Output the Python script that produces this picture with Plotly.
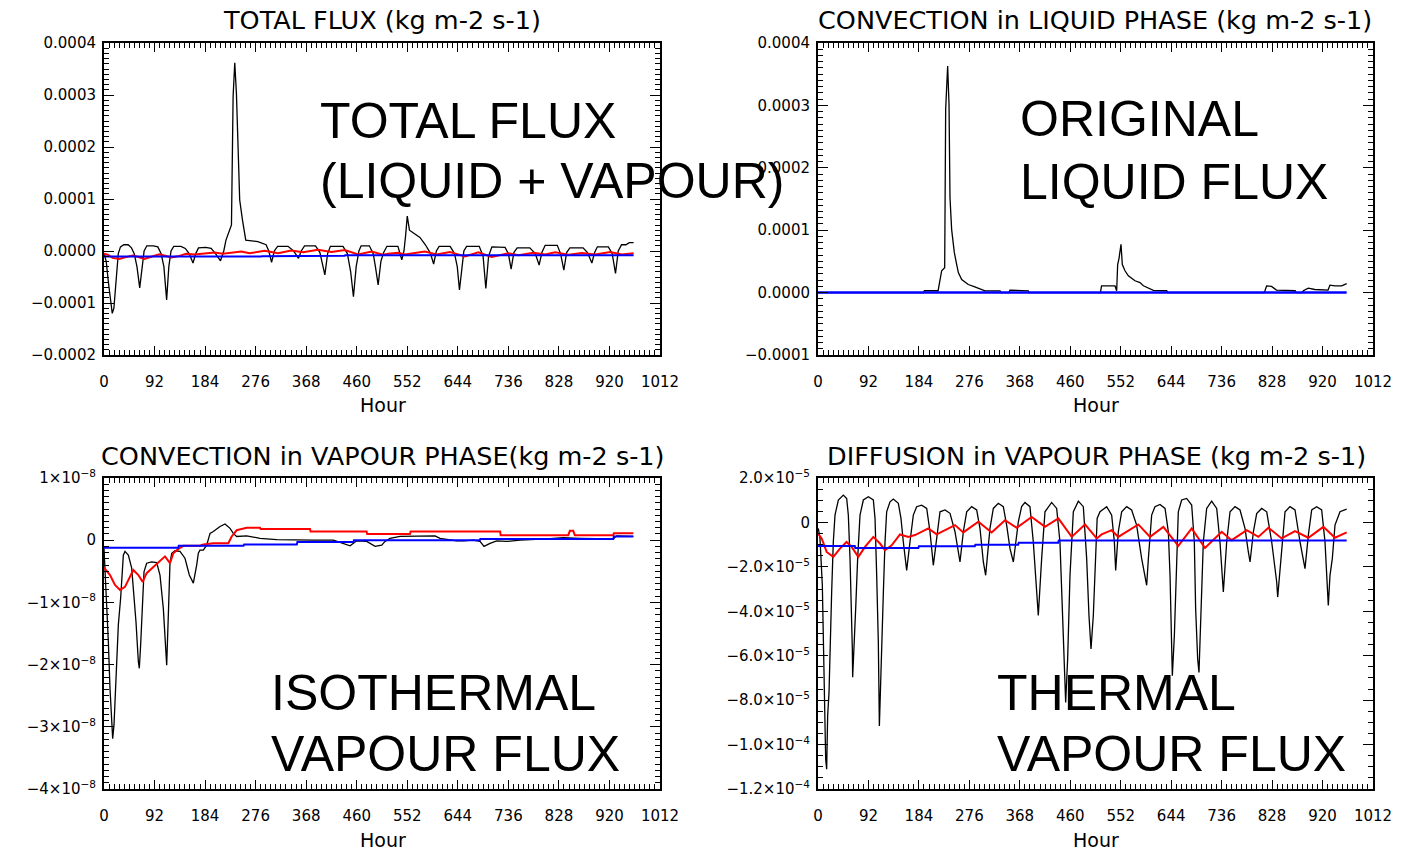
import numpy as np
import plotly.graph_objects as go

# ---------------- data (hours, values) ----------------
# Panel 1: total flux, black series (units 1e-5 kg m-2 s-1)
TOTAL_H = [0, 4, 8, 12, 15, 18, 22, 26, 30, 36, 44, 50, 55, 60, 65, 69, 73, 78, 90, 98, 104, 109, 114, 118,
           122, 127, 140, 148, 155, 162, 167, 172, 185, 195, 203, 212, 218, 222, 228, 232, 235, 238, 241,
           244, 247, 252, 258, 265, 280, 295, 300, 305, 310, 316, 335, 345, 354, 359, 365, 385, 393, 402,
           407, 412, 435, 443, 449, 454, 459, 464, 468, 483, 490, 494, 499, 504, 509, 515, 535, 542, 546,
           549, 552, 556, 565, 575, 585, 594, 600, 605, 610, 630, 638, 643, 647, 651, 655, 660, 683, 690,
           695, 700, 706, 730, 736, 741, 746, 752, 775, 785, 792, 797, 803, 825, 831, 837, 842, 848, 872,
           880, 888, 893, 898, 918, 925, 931, 936, 942, 950, 956, 964]
TOTAL_V = [-0.4, -2, -6, -10, -12, -11, -6, -0.5, 0.8, 1.2, 1.2, 0.6, -0.5, -3, -7.1, -3, 0, 1, 1, 0.8, -0.5,
           -3, -9.4, -3, 0, 0.9, 0.9, 0.5, -0.5, -2.3, -0.5, 0.6, 0.7, 0.5, -0.5, -1.9, 0, 2.1, 3.7, 5,
           29.7, 36.2, 30.4, 19.4, 9.8, 6, 2.1, 2, 1.8, 1.2, 0, -2.2, 0, 0.9, 0.9, 0, -1.4, 0, 1, 1, -0.3,
           -4.6, -0.5, 0.9, 0.9, -0.5, -4, -8.8, -3, 0, 1, 1, -0.5, -3, -6.5, -2, -0.3, 0.9, 0.9, -1.7, 0,
           3, 6.7, 4, 3.3, 2.6, 1.2, -0.4, -2.5, 0, 0.9, 0.9, -0.5, -3, -7.5, -3, 0, 0.9, 0.9, -1, -7.2,
           -1, 0.8, 0.7, -0.5, -3.5, -0.3, 0.6, 0.6, -0.5, -2.7, -0.3, 1.1, 1.1, -0.5, -3.7, -0.3, 0.6,
           0.6, -0.3, -2.3, -0.3, 0.8, 0.8, -0.5, -4.3, 0, 1.2, 1.2, 1.6, 1.6]

# Panel 2: liquid flux, black series (units 1e-5)
LIQ_H = [0, 192, 194, 219, 225.5, 231, 232.8, 236.4, 238.9, 240.7, 243.7, 248.6, 252.9, 255.9, 262, 274,
         286, 298, 304.5, 332, 334, 348, 350, 383.5, 385, 515, 517, 541.6, 544.6, 546.4, 548.9, 552.5,
         554.9, 559.8, 565.9, 578, 587.2, 593.3, 602.4, 611.5, 635.8, 638, 813, 815, 818, 827, 836, 870,
         872, 883, 885, 894, 906, 930, 933.6, 942.7, 955, 964]
LIQ_V = [0, 0, 0.3, 0.3, 3.5, 4.0, 29.4, 36.3, 30.2, 15.2, 10.1, 6.4, 4.5, 3.2, 2.1, 1.3, 0.9, 0.5, 0.27,
         0.27, 0, 0, 0.4, 0.27, 0, 0, 1.07, 1.07, 0.3, 4.5, 5.5, 7.75, 4.5, 3.5, 2.7, 1.9, 1.6, 1.1, 0.7,
         0.37, 0.3, 0, 0, 0.3, 1.07, 1.0, 0.4, 0.3, 0, 0, 0.3, 0.7, 0.5, 0.4, 1.2, 1.07, 1.07, 1.44]
LIQ_BLUE_H = [0, 964]
LIQ_BLUE_V = [0, 0]

# Panel 3: isothermal vapour flux (units 1e-8)
ISO_H = [0, 1.8, 4.9, 7.9, 10.9, 13.9, 15.8, 18.2, 21.8, 26.1, 30.3, 35.2, 38.2, 44.3, 50.4, 53.4, 58.2,
         62.5, 64.3, 66.7, 70.4, 72.8, 77.6, 86.8, 95.9, 101.9, 108, 112.9, 114.1, 117.1, 120.1, 123.2,
         129.2, 138.3, 147.4, 155.3, 162.6, 168.7, 171.7, 174.7, 180.8, 186.9, 193, 199, 211.2, 220.3,
         229.4, 235.4, 241.5, 259.7, 271.9, 284, 314.4, 350.8, 381.1, 417.5, 447.9, 460, 478.2, 493.4,
         505.5, 511.5, 520.6, 538.8, 587.3, 602.5, 611.6, 641.9, 654, 672.2, 684.4, 691.7, 702.6, 714.8,
         733, 757.2, 805.8, 836.1, 866.4, 890.7, 927.1, 933.2, 963.5]
ISO_V = [-0.13, -0.45, -1.04, -1.63, -2.38, -3.02, -3.19, -2.97, -2.17, -1.36, -0.93, -0.24, -0.18, -0.24,
         -0.45, -0.77, -1.31, -1.95, -2.06, -1.68, -1.10, -0.51, -0.37, -0.35, -0.36, -0.56, -1.10, -1.95,
         -2.01, -1.2, -0.37, -0.21, -0.17, -0.18, -0.29, -0.56, -0.69, -0.40, -0.21, -0.16, -0.16, -0.08,
         0.11, 0.14, 0.22, 0.26, 0.19, 0.11, 0.06, 0.07, 0.05, 0.03, 0.01, 0, 0, 0, -0.09, -0.01, -0.02,
         -0.10, -0.08, -0.02, 0.03, 0.06, 0.06, 0.07, 0.03, -0.01, -0.01, 0, -0.02, -0.10, -0.05, -0.01,
         -0.02, 0, 0.02, 0.04, 0.03, 0.03, 0.02, 0.07, 0.06]
ISO_RED_H = [0, 10.9, 20, 29.1, 38.2, 47.3, 53.4, 62.5, 70.4, 77.6, 89.8, 101.9, 111, 120.1, 126.2, 135.3,
             144.4, 174.7, 180.8, 199, 226.3, 232.4, 241.5, 259.7, 284, 285, 375, 376, 478, 479, 557, 558,
             721, 722, 845, 848, 854, 857, 927, 928, 963.5]
ISO_RED_V = [-0.44, -0.56, -0.72, -0.80, -0.75, -0.59, -0.48, -0.56, -0.67, -0.53, -0.43, -0.32, -0.26,
             -0.37, -0.21, -0.14, -0.09, -0.09, -0.07, -0.05, -0.05, 0.06, 0.16, 0.20, 0.20, 0.18, 0.18,
             0.14, 0.14, 0.10, 0.10, 0.14, 0.14, 0.08, 0.08, 0.15, 0.15, 0.08, 0.08, 0.11, 0.11]
ISO_BLUE_H = [0, 135, 136, 254, 255, 351, 352, 454, 455, 684, 685, 927, 928, 963.5]
ISO_BLUE_V = [-0.12, -0.12, -0.09, -0.09, -0.07, -0.07, -0.03, -0.03, 0.0, 0.0, 0.02, 0.02, 0.06, 0.06]

# Panel 4: thermal vapour flux (units 1e-5)
TH_H = [0.6, 3.6, 7.9, 11.6, 14, 15.8, 17.6, 20.1, 21.9, 24.9, 27.9, 31, 37.1, 46.2, 52.3, 55.3, 58.4,
        61.4, 62.6, 63.2, 66.3, 68.7, 72.3, 76.6, 82.7, 91.8, 100.9, 104, 107, 110, 111.9, 114.9, 119.2,
        122.2, 125.2, 131.3, 137.4, 146.5, 151.3, 155.6, 161.7, 167.7, 173.8, 179.9, 189, 198.2, 204.2,
        210.3, 216.4, 222.5, 231.6, 240.7, 249.8, 258.9, 265, 271.1, 280.2, 289.3, 295.4, 301.5, 305.7,
        313.6, 319.7, 328.8, 337.9, 344, 350.1, 356.2, 365.3, 371.3, 377.4, 386.5, 392.6, 398.7, 401.7,
        407.8, 413.9, 426, 435.2, 441.2, 445.5, 449.1, 451.6, 455.2, 459.5, 465.6, 474.7, 483.8, 489.9,
        494.1, 497.8, 502, 505, 509, 514.2, 526.4, 535.5, 540.4, 542.8, 547.6, 553.7, 562.8, 571.9, 581,
        590.2, 596.3, 599.3, 602.4, 608.4, 614.5, 623.6, 632.8, 638.8, 641.9, 643.7, 646.1, 649.8, 654,
        657, 663.1, 672.2, 681.4, 686.2, 688.6, 692.3, 694.7, 698.4, 702.6, 708.7, 717.8, 727, 733, 739.1,
        745.2, 751.3, 760.4, 769.5, 778.6, 784.7, 787.8, 793.9, 799.9, 809, 818.2, 827.3, 836.4, 838.2,
        844.3, 851.6, 860.7, 869.8, 878.9, 885, 888, 894.1, 900.2, 909.3, 918.4, 924.5, 927.5, 930.5,
        933.6, 937.8, 942.7, 951.8, 964]
TH_V = [-0.27, -0.72, -2.83, -7.65, -10.66, -11.11, -8.7, -7.65, -5.39, -3.13, -0.88, 0.33, 1.01, 1.23,
        1.08, 0.33, -1.63, -3.89, -5.7, -6.97, -5.54, -3.89, -1.63, 0.33, 1.01, 1.16, 1.01, 0.18, -2.38,
        -5.39, -9.16, -6.15, -3.13, -0.88, 0.48, 0.93, 1.05, 0.86, 0.18, -0.88, -2.16, -0.88, 0.33, 0.71,
        0.78, 0.63, -0.42, -1.93, -0.57, 0.48, 0.56, 0.41, -0.42, -1.78, -0.42, 0.48, 0.71, 0.56, -0.27,
        -1.78, -2.38, -0.27, 0.63, 0.86, 0.71, -0.12, -1.18, -1.78, 0.03, 0.71, 0.90, 0.71, -0.88, -2.83,
        -4.19, -1.63, 0.48, 0.90, 0.63, -0.88, -3.89, -6.9, -8.1, -6.15, -2.38, 0.48, 0.96, 0.71, -1.63,
        -4.19, -5.7, -4.19, -2.5, 0.18, 0.48, 0.71, 0.33, -0.88, -2.16, -0.42, 0.48, 0.71, 0.56, -0.12,
        -1.63, -2.53, -2.83, -1.63, 0.33, 0.71, 0.81, 0.63, -0.42, -2.38, -4.64, -6.9, -5.09, -1.63, 0.48,
        1.01, 1.08, 0.78, -0.88, -3.89, -6.15, -6.75, -3.89, -0.88, 0.63, 0.96, 0.63, -0.88, -3.13, -0.88,
        0.48, 0.71, 0.56, -0.27, -1.33, -1.78, -0.42, 0.40, 0.63, 0.48, -0.88, -2.68, -3.36, -1.63, 0.48,
        0.71, 0.56, -0.88, -1.63, -2.08, -0.57, 0.56, 0.71, 0.56, -0.88, -2.68, -3.74, -2.38, -1.63, -0.12,
        0.48, 0.60]
TH_RED_H = [0, 6.7, 15.8, 27.9, 40, 52, 61.4, 73.5, 85.7, 100.9, 113, 122.2, 134.3, 149.5, 164.7, 176.9,
            201.2, 216.4, 249.8, 265, 292.4, 316.7, 341, 362.3, 389.6, 414, 438.3, 462.6, 486.9, 508.2,
            517.2, 535.5, 547.6, 584.1, 605.4, 629.7, 657, 681.4, 705.7, 736.1, 754.3, 781.7, 803, 821.2,
            845.5, 869.8, 894.1, 921.5, 942.7, 964]
TH_RED_V = [-0.50, -0.72, -1.33, -1.55, -1.18, -0.88, -1.10, -1.55, -1.10, -0.65, -0.95, -1.25, -1.03,
            -0.54, -0.65, -0.57, -0.27, -0.54, -0.12, -0.45, 0.03, -0.45, 0.10, -0.24, 0.25, -0.20, 0.18,
            -0.65, -0.09, -0.72, -0.54, -0.35, -0.65, -0.09, -0.65, -0.20, -1.06, -0.27, -1.15, -0.42,
            -0.80, -0.35, -0.65, -0.24, -0.72, -0.39, -0.69, -0.20, -0.69, -0.45]
TH_BLUE_H = [0, 67, 68, 183, 184, 286, 287, 365, 366, 438, 439, 964]
TH_BLUE_V = [-1.06, -1.06, -1.15, -1.15, -1.07, -1.07, -1.0, -1.0, -0.92, -0.92, -0.81, -0.81]

# ticks
X_TICKS = [0, 92, 184, 276, 368, 460, 552, 644, 736, 828, 920, 1012]
X_TICK_TEXT = [str(v) for v in X_TICKS]
Y1_TICKS = [-2e-4, -1e-4, 0, 1e-4, 2e-4, 3e-4, 4e-4]
Y1_TEXT = ["−0.0002", "−0.0001", "0.0000", "0.0001", "0.0002", "0.0003", "0.0004"]
Y2_TICKS = [-1e-4, 0, 1e-4, 2e-4, 3e-4, 4e-4]
Y2_TEXT = ["−0.0001", "0.0000", "0.0001", "0.0002", "0.0003", "0.0004"]
Y3_TICKS = [-4e-8, -3e-8, -2e-8, -1e-8, 0, 1e-8]
Y3_TEXT = ["−4×10<sup>−8</sup>", "−3×10<sup>−8</sup>", "−2×10<sup>−8</sup>", "−1×10<sup>−8</sup>", "0",
           "1×10<sup>−8</sup>"]
Y4_TICKS = [-1.2e-4, -1.0e-4, -8e-5, -6e-5, -4e-5, -2e-5, 0, 2e-5]
Y4_TEXT = ["−1.2×10<sup>−4</sup>", "−1.0×10<sup>−4</sup>", "−8.0×10<sup>−5</sup>", "−6.0×10<sup>−5</sup>",
           "−4.0×10<sup>−5</sup>", "−2.0×10<sup>−5</sup>", "0", "2.0×10<sup>−5</sup>"]

TITLES = ["TOTAL FLUX (kg m-2 s-1)", "CONVECTION in LIQUID PHASE (kg m-2 s-1)",
          "CONVECTION in VAPOUR PHASE(kg m-2 s-1)", "DIFFUSION in VAPOUR PHASE (kg m-2 s-1)"]
LABELS = [["TOTAL FLUX", "(LIQUID + VAPOUR)"], ["ORIGINAL", "LIQUID FLUX"],
          ["ISOTHERMAL", "VAPOUR FLUX"], ["THERMAL", "VAPOUR FLUX"]]

# ---------------- figure ----------------
W, H = 1405, 850
fig = go.Figure()

def a(lst, s):
    return np.array(lst, dtype=float) * s

def add(xs, ys, color, width, ax):
    fig.add_trace(go.Scatter(x=xs, y=ys, mode="lines", line=dict(color=color, width=width),
                             xaxis="x" + ax, yaxis="y" + ax, showlegend=False, hoverinfo="skip"))

# panel 1
add(TOTAL_H, a(TOTAL_V, 1e-5), "black", 1.3, "")
add(TH_RED_H, a(TH_RED_V, 1e-5), "#ff0000", 2, "")
add(TH_BLUE_H, a(TH_BLUE_V, 1e-5), "#0000ff", 2, "")
# panel 2
add(LIQ_H, a(LIQ_V, 1e-5), "black", 1.3, "2")
add(LIQ_BLUE_H, a(LIQ_BLUE_V, 1e-5), "#0000ff", 2.5, "2")
# panel 3
add(ISO_H, a(ISO_V, 1e-8), "black", 1.3, "3")
add(ISO_RED_H, a(ISO_RED_V, 1e-8), "#ff0000", 2, "3")
add(ISO_BLUE_H, a(ISO_BLUE_V, 1e-8), "#0000ff", 2, "3")
# panel 4
add(TH_H, a(TH_V, 1e-5), "black", 1.3, "4")
add(TH_RED_H, a(TH_RED_V, 1e-5), "#ff0000", 2, "4")
add(TH_BLUE_H, a(TH_BLUE_V, 1e-5), "#0000ff", 2, "4")

TICKFONT = dict(family="DejaVu Sans", size=15, color="black")

def xaxis(domain, anchor):
    return dict(domain=domain, anchor=anchor, range=[0, 1012], tickmode="array", tickvals=X_TICKS,
                ticktext=X_TICK_TEXT, ticks="inside", ticklen=9, tickwidth=1.2, tickcolor="black",
                showline=True, linecolor="black", linewidth=2, mirror="allticks", showgrid=False,
                zeroline=False, tickfont=TICKFONT, ticklabelstandoff=12, automargin=False,
                minor=dict(tickmode="linear", tick0=0, dtick=9.2, ticks="inside", ticklen=5,
                           tickcolor="black", tickwidth=1, showgrid=False))

def yaxis(domain, anchor, rng, tv, tt, mdt):
    return dict(domain=domain, anchor=anchor, range=rng, tickmode="array", tickvals=tv, ticktext=tt,
                ticks="inside", ticklen=10, tickwidth=1.2, tickcolor="black", showline=True,
                linecolor="black", linewidth=2, mirror="allticks", showgrid=False, zeroline=False,
                tickfont=TICKFONT, ticklabelstandoff=3, automargin=False,
                minor=dict(tickmode="linear", tick0=0, dtick=mdt, ticks="inside", ticklen=5,
                           tickcolor="black", tickwidth=1, showgrid=False))

XL = [104 / W, 660 / W]
XR = [818 / W, 1373 / W]
YT = [1 - 355 / H, 1 - 43 / H]
YB = [1 - 789 / H, 1 - 478 / H]

fig.update_layout(
    width=W, height=H, autosize=False, margin=dict(l=0, r=0, t=0, b=0, pad=0, autoexpand=False),
    paper_bgcolor="white", plot_bgcolor="white", showlegend=False,
    xaxis=xaxis(XL, "y"), yaxis=yaxis(YT, "x", [-2e-4, 4e-4], Y1_TICKS, Y1_TEXT, 1e-5),
    xaxis2=xaxis(XR, "y2"), yaxis2=yaxis(YT, "x2", [-1e-4, 4e-4], Y2_TICKS, Y2_TEXT, 1e-5),
    xaxis3=xaxis(XL, "y3"), yaxis3=yaxis(YB, "x3", [-4e-8, 1e-8], Y3_TICKS, Y3_TEXT, 1e-9),
    xaxis4=xaxis(XR, "y4"), yaxis4=yaxis(YB, "x4", [-1.2e-4, 2e-5], Y4_TICKS, Y4_TEXT, 5e-6),
)

ann = []
TITLE_FONT = dict(family="DejaVu Sans", size=25.5, color="black")
title_pos = [(382, 20), (1095, 20), (383, 456), (1096, 456)]
for t, (px, py) in zip(TITLES, title_pos):
    ann.append(dict(text=t, x=px / W, y=1 - py / H, xref="paper", yref="paper", xanchor="center",
                    yanchor="middle", showarrow=False, font=TITLE_FONT))
for px, py in [(383, 405), (1096, 405), (383, 840), (1096, 840)]:
    ann.append(dict(text="Hour", x=px / W, y=1 - py / H, xref="paper", yref="paper", xanchor="center",
                    yanchor="middle", showarrow=False, font=dict(family="DejaVu Sans", size=19,
                                                                  color="black")))
BIG = dict(family="Liberation Sans", size=50, color="black")
label_pos = [(320, 121, 181), (1020, 119, 182), (271, 693, 754), (997, 693, 754)]
for lines, (px, y1, y2) in zip(LABELS, label_pos):
    for txt, py in zip(lines, (y1, y2)):
        ann.append(dict(text=txt, x=px / W, y=1 - py / H, xref="paper", yref="paper", xanchor="left",
                        yanchor="middle", showarrow=False, font=BIG, xshift=-2))
fig.update_layout(annotations=ann)

fig.write_html("out.html")
